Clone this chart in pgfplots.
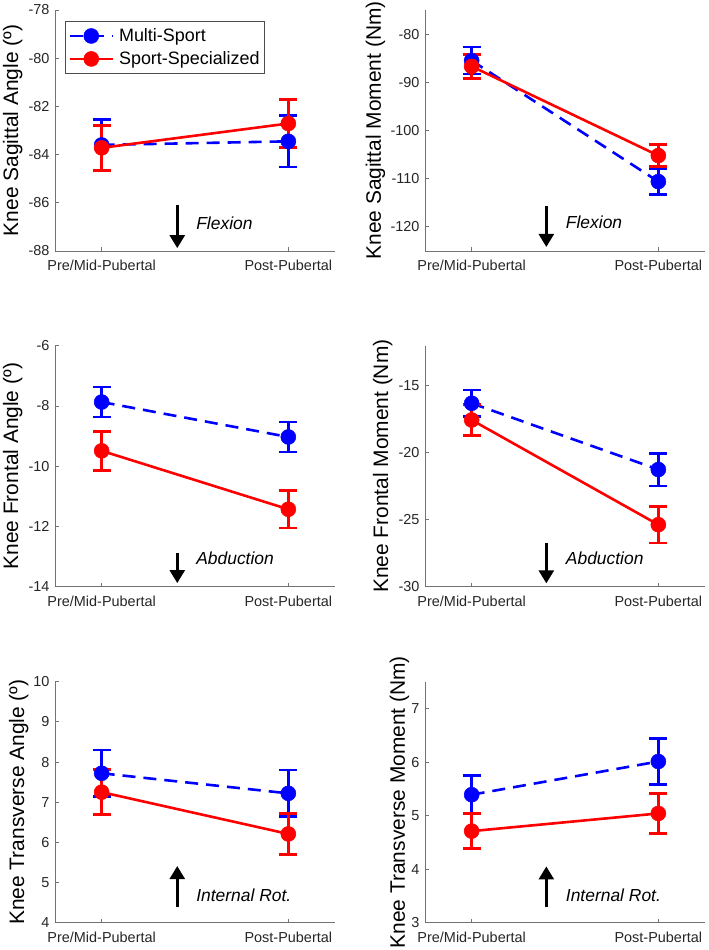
\documentclass[border=0pt]{standalone}
\usepackage{fontspec}
\setmainfont{Liberation Sans}
\usepackage{pgfplots}
\pgfplotsset{compat=1.18}
\usetikzlibrary{arrows.meta}
\definecolor{axgray}{gray}{0.45}
\definecolor{txt}{gray}{0.15}
\tikzset{
 arr/.style={line width=2.6bp, -{Triangle[width=15bp,length=13bp]}},
 lab/.style={anchor=west, inner sep=0pt, font=\fontsize{17.5}{20}\selectfont\itshape},
}
\pgfplotsset{
 knee/.style={
  scale only axis, width=280bp, height=241bp,
  xmin=0.75, xmax=2.25, xtick={1,2}, xticklabels={Pre/Mid-Pubertal,Post-Pubertal},
  axis x line*=bottom, axis y line*=left,
  axis line style={-, draw=axgray, line width=0.8bp},
  tick style={draw=axgray, line width=0.8bp},
  tick align=inside, major tick length=4bp,
  /pgf/number format/assume math mode=true,
  tick label style={font=\fontsize{14.5}{17}\selectfont, text=txt},
  yticklabel style={xshift=-2bp},
  xticklabel style={yshift=-6bp},
  label style={font=\fontsize{21}{25}\selectfont, text=black},
  clip=false,
  legend image code/.code={\draw[mark repeat=2,mark phase=2,##1] plot coordinates {(0bp,0bp) (21.5bp,0bp) (43bp,0bp)};},
 },
 ms/.style={blue, line width=2.6bp, dash pattern=on 13bp off 8bp, mark=*, mark size=7.5bp,
   mark options={solid, fill=blue, draw=blue, line width=0.5bp},
   /pgfplots/error bars/y dir=both, /pgfplots/error bars/y explicit,
   /pgfplots/error bars/error bar style={solid, line width=2.6bp, blue},
   /pgfplots/error bars/error mark options={solid, rotate=90, mark size=9bp, line width=2.6bp, blue}},
 ss/.style={red, line width=2.6bp, solid, mark=*, mark size=7.5bp,
   mark options={solid, fill=red, draw=red, line width=0.5bp},
   /pgfplots/error bars/y dir=both, /pgfplots/error bars/y explicit,
   /pgfplots/error bars/error bar style={solid, line width=2.6bp, red},
   /pgfplots/error bars/error mark options={solid, rotate=90, mark size=9bp, line width=2.6bp, red}},
}
\begin{document}
\begin{tikzpicture}
\useasboundingbox (0,0) rectangle (709bp,950bp);
% Panel 1
\begin{axis}[knee, at={(55bp,699bp)}, anchor=south west,
  ymin=-88, ymax=-78, ytick={-88,-86,-84,-82,-80,-78},
  ylabel={Knee Sagittal Angle (º)},
  ylabel style={at={(axis description cs:-0.151,0.5)}, anchor=center},
  legend style={at={(rel axis cs:0.036,0.955)}, anchor=north west, draw=black!70, line width=0.8bp,
    fill=white, font=\fontsize{18}{21}\selectfont, inner xsep=3bp, inner ysep=5.5bp, row sep=4.5bp,
    cells={anchor=west}, /tikz/every odd column/.append style={column sep=3bp}},
  legend cell align=left]
\addplot[ms] table[x=x,y=y,y error=e] {
x y e
1 -83.6 1.05
2 -83.45 1.07
};
\addlegendentry{Multi-Sport}
\addplot[ss] table[x=x,y=y,y error=e] {
x y e
1 -83.72 0.93
2 -82.71 1.0
};
\addlegendentry{Sport-Specialized}
\draw[arr] (axis cs:1.405,-86.1) -- (axis cs:1.405,-87.88);
\node[lab] at (axis cs:1.506,-86.83) {Flexion};
\end{axis}
% Panel 2
\begin{axis}[knee, at={(425bp,699bp)}, anchor=south west,
  ymin=-125, ymax=-75, ytick={-120,-110,-100,-90,-80},
  ylabel={Knee Sagittal Moment (Nm)},
  ylabel style={at={(axis description cs:-0.177,0.5)}, anchor=center}]
\addplot[ms] table[x=x,y=y,y error=e] {
x y e
1 -85.5 2.8
2 -110.6 2.7
};
\addplot[ss] table[x=x,y=y,y error=e] {
x y e
1 -86.7 2.5
2 -105.2 2.3
};
\draw[arr] (axis cs:1.4,-115.75) -- (axis cs:1.4,-124.16);
\node[lab] at (axis cs:1.504,-118.97) {Flexion};
\end{axis}
% Panel 3
\begin{axis}[knee, at={(55bp,363.3bp)}, anchor=south west,
  ymin=-14, ymax=-6, ytick={-14,-12,-10,-8,-6},
  ylabel={Knee Frontal Angle (º)},
  ylabel style={at={(axis description cs:-0.151,0.5)}, anchor=center}]
\addplot[ms] table[x=x,y=y,y error=e] {
x y e
1 -7.87 0.5
2 -9.03 0.5
};
\addplot[ss] table[x=x,y=y,y error=e] {
x y e
1 -9.49 0.65
2 -11.43 0.62
};
\draw[arr] (axis cs:1.405,-12.88) -- (axis cs:1.405,-13.88);
\node[lab] at (axis cs:1.506,-13.05) {Abduction};
\end{axis}
% Panel 4
\begin{axis}[knee, at={(425bp,363.3bp)}, anchor=south west,
  ymin=-30, ymax=-12, ytick={-30,-25,-20,-15},
  ylabel={Knee Frontal Moment (Nm)},
  ylabel style={at={(axis description cs:-0.151,0.5)}, anchor=center}]
\addplot[ms] table[x=x,y=y,y error=e] {
x y e
1 -16.3 1.0
2 -21.25 1.22
};
\addplot[ss] table[x=x,y=y,y error=e] {
x y e
1 -17.55 1.15
2 -25.37 1.38
};
\draw[arr] (axis cs:1.4,-26.7) -- (axis cs:1.4,-29.75);
\node[lab] at (axis cs:1.504,-27.87) {Abduction};
\end{axis}
% Panel 5
\begin{axis}[knee, at={(55bp,27.3bp)}, anchor=south west,
  ymin=4, ymax=10, ytick={4,5,6,7,8,9,10},
  ylabel={Knee Transverse Angle (º)},
  ylabel style={at={(axis description cs:-0.130,0.5)}, anchor=center}]
\addplot[ms] table[x=x,y=y,y error=e] {
x y e
1 7.72 0.58
2 7.22 0.58
};
\addplot[ss] table[x=x,y=y,y error=e] {
x y e
1 7.25 0.56
2 6.21 0.51
};
\draw[arr] (axis cs:1.405,4.40) -- (axis cs:1.405,5.41);
\node[lab] at (axis cs:1.506,4.69) {Internal Rot.};
\end{axis}
% Panel 6
\begin{axis}[knee, at={(425bp,27.3bp)}, anchor=south west,
  ymin=3, ymax=7.5, ytick={3,4,5,6,7},
  ylabel={Knee Transverse Moment (Nm)},
  ylabel style={at={(axis description cs:-0.091,0.5)}, anchor=center}]
\addplot[ms] table[x=x,y=y,y error=e] {
x y e
1 5.39 0.36
2 6.01 0.43
};
\addplot[ss] table[x=x,y=y,y error=e] {
x y e
1 4.71 0.33
2 5.04 0.375
};
\draw[arr] (axis cs:1.4,3.30) -- (axis cs:1.4,4.05);
\node[lab] at (axis cs:1.504,3.52) {Internal Rot.};
\end{axis}
\end{tikzpicture}
\end{document}
